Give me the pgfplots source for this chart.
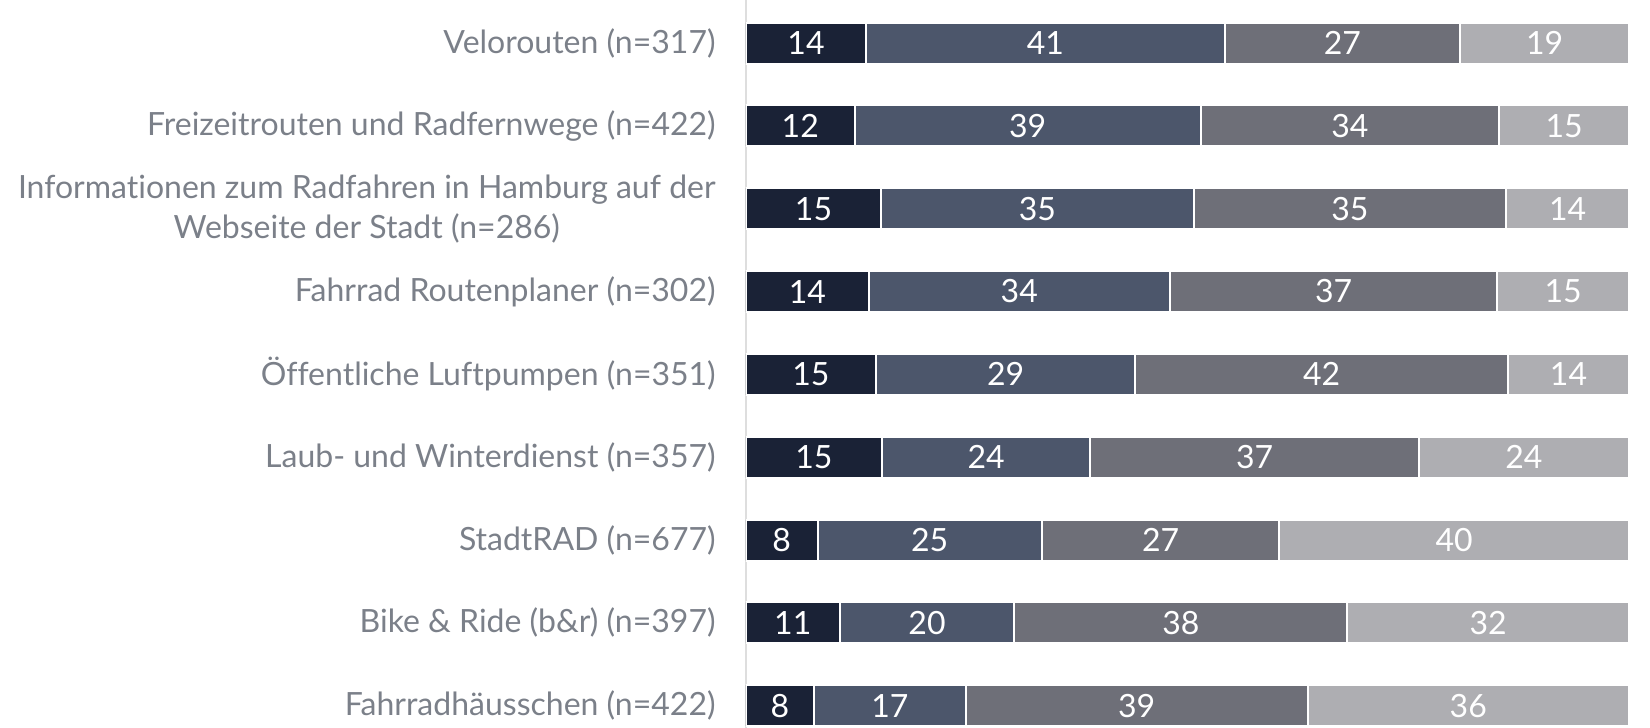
\documentclass[border=0pt]{standalone}
\usepackage{pgfplots}
\pgfplotsset{compat=1.18}
\usepackage{pgfplotstable}
\usepackage{fontspec}
\setmainfont{Lato}[Ligatures={NoCommon}]

\definecolor{s1}{HTML}{1A2236}
\definecolor{s2}{HTML}{4C566B}
\definecolor{s3}{HTML}{6E6F78}
\definecolor{s4}{HTML}{AEAEB2}
\definecolor{lbl}{HTML}{7B8089}

% shares in percent, one row per offer (top to bottom)
\pgfplotstableread{
y a    b    c    d
0 13.6 40.6 26.7 19.1
1 12.3 39.2 33.8 14.7
2 15.3 35.4 35.4 13.9
3 13.9 34.1 37.1 14.9
4 14.7 29.4 42.2 13.7
5 15.4 23.6 37.2 23.8
6  8.1 25.4 26.9 39.6
7 10.6 19.8 37.7 31.9
8  7.7 17.2 38.7 36.4
}\shares

\begin{document}
\begin{tikzpicture}
\begin{axis}[
    xbar stacked,
    scale only axis,
    width=441.5pt, height=364pt,
    bar width=20.5pt,
    xmin=0, xmax=100,
    y dir=reverse,
    ymin=-0.52, ymax=8.27,
    hide x axis,
    axis y line*=left,
    y axis line style={draw=black!13, line width=1pt, -},
    ytick={0,...,8},
    major tick length=0pt,
    yticklabels={
        Velorouten (n=317),
        Freizeitrouten und Radfernwege (n=422),
        {Informationen zum Radfahren in Hamburg auf der\\Webseite der Stadt (n=286)},
        Fahrrad Routenplaner (n=302),
        Öffentliche Luftpumpen (n=351),
        Laub- und Winterdienst (n=357),
        StadtRAD (n=677),
        Bike \& Ride (b\&r) (n=397),
        Fahrradhäusschen (n=422)},
    yticklabel style={align=center, text=lbl, inner sep=0pt, xshift=-15pt,
        font=\fontsize{16}{20}\selectfont},
    point meta=explicit,
    nodes near coords={\pgfmathprintnumber[fixed,precision=0,assume math mode=true]{\pgfplotspointmeta}},
    every node near coord/.append style={anchor=center, text=white,
        font=\fontsize{16}{18}\selectfont},
]
\addplot+[fill=s1, draw=white, line width=1pt] table[x=a, y=y, meta=a] {\shares};
\addplot+[fill=s2, draw=white, line width=1pt] table[x=b, y=y, meta=b] {\shares};
\addplot+[fill=s3, draw=white, line width=1pt] table[x=c, y=y, meta=c] {\shares};
\addplot+[fill=s4, draw=white, line width=1pt] table[x=d, y=y, meta=d] {\shares};
\end{axis}
\pgfresetboundingbox
\path[use as bounding box] (current axis.south west) ++(-373pt,0)
    rectangle ([xshift=10.5pt]current axis.north east);
\end{tikzpicture}
\end{document}
